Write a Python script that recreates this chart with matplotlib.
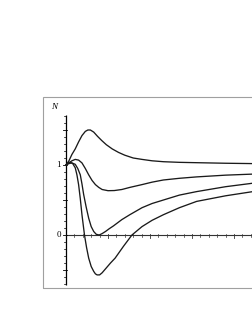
import matplotlib.pyplot as plt
import numpy as np
from matplotlib.patches import Rectangle

# curves (x in arbitrary units, y = N)
x1 = [0, 0.07, 0.14, 0.22, 0.30, 0.38, 0.46, 0.52, 0.58, 0.66, 0.75, 0.85, 0.96, 1.10, 1.25, 1.40, 1.6, 1.81, 2.05, 2.32, 2.7, 3.11, 3.8, 4.45]
y1 = [1, 1.06, 1.15, 1.23, 1.33, 1.42, 1.48, 1.50, 1.50, 1.47, 1.41, 1.35, 1.29, 1.23, 1.18, 1.14, 1.10, 1.08, 1.06, 1.047, 1.038, 1.033, 1.025, 1.02]

x2 = [0, 0.07, 0.14, 0.22, 0.30, 0.38, 0.46, 0.54, 0.62, 0.70, 0.78, 0.86, 1.0, 1.15, 1.33, 1.52, 1.81, 2.05, 2.32, 2.7, 3.11, 3.8, 4.45]
y2 = [1, 1.03, 1.06, 1.08, 1.07, 1.03, 0.95, 0.86, 0.78, 0.72, 0.68, 0.65, 0.633, 0.635, 0.65, 0.68, 0.72, 0.755, 0.786, 0.81, 0.83, 0.855, 0.87]

x3 = [0, 0.07, 0.14, 0.22, 0.28, 0.34, 0.38, 0.42, 0.48, 0.54, 0.60, 0.66, 0.72, 0.79, 0.86, 0.94, 1.03, 1.13, 1.33, 1.52, 1.81, 2.05, 2.32, 2.7, 3.11, 3.8, 4.45]
y3 = [1, 1.02, 1.03, 1.01, 0.95, 0.86, 0.73, 0.58, 0.40, 0.24, 0.12, 0.05, 0.01, 0.0, 0.02, 0.05, 0.09, 0.13, 0.22, 0.29, 0.39, 0.45, 0.50, 0.57, 0.62, 0.69, 0.74]

x4 = [0, 0.05, 0.10, 0.16, 0.22, 0.26, 0.30, 0.34, 0.38, 0.44, 0.49, 0.54, 0.60, 0.66, 0.70, 0.74, 0.80, 0.86, 0.96, 1.06, 1.17, 1.37, 1.57, 1.81, 2.05, 2.32, 2.7, 3.11, 3.8, 4.45]
y4 = [1, 1.03, 1.04, 1.02, 0.96, 0.86, 0.72, 0.52, 0.29, 0.0, -0.18, -0.33, -0.45, -0.52, -0.555, -0.57, -0.57, -0.54, -0.47, -0.40, -0.33, -0.16, 0.0, 0.12, 0.21, 0.29, 0.39, 0.48, 0.56, 0.62]

ytick_labels = ['0', '1']

W, H = 253, 327
fig = plt.figure(figsize=(W / 100, H / 100), dpi=100)
ax = fig.add_axes([0, 0, 1, 1])
ax.axis('off')
# pixel mapping: x=0 at px 66, 42 px per unit; y=0 at px 235, 70 px per unit
ax.set_xlim(-66 / 42, (W - 66) / 42)
ax.set_ylim(-(H - 235) / 70, 235 / 70)

# grey frame
fig.patches.append(Rectangle((42.7 / W, (H - 288) / H), 1, (288 - 96.7) / H,
                             transform=fig.transFigure, fill=False,
                             edgecolor='#a0a0a0', linewidth=0.8))

# axes lines
ax.plot([0, 0], [-0.71, 1.71], color='black', lw=0.9, solid_capstyle='butt')
ax.plot([0, 4.5], [0, 0], color='#333333', lw=0.8)

# y ticks
for i in range(-7, 18):
    v = i / 10
    if i % 5 == 0:
        ax.plot([-3 / 42, 1 / 42], [v, v], color='black', lw=0.6)
    else:
        ax.plot([-2 / 42, 0.5 / 42], [v, v], color='black', lw=0.5)

# x ticks
for i in range(1, 23):
    v = i * 0.2
    if i % 5 == 0:
        ax.plot([v, v], [-3 / 70, 1 / 70], color='#333333', lw=0.6)
    else:
        ax.plot([v, v], [-1.5 / 70, 1.5 / 70], color='#333333', lw=0.5)

for xs, ys in [(x1, y1), (x2, y2), (x3, y3), (x4, y4)]:
    ax.plot(xs, ys, color='#1a1a1a', lw=0.95, solid_joinstyle='round')

ax.text(-5 / 42, 0, ytick_labels[0], ha='right', va='center', fontsize=6.5, family='Liberation Serif')
ax.text(-5 / 42, 1, ytick_labels[1], ha='right', va='center', fontsize=6.5, family='Liberation Serif')
ax.text(-0.29, 1.83, 'N', ha='center', va='center', fontsize=6.5, family='Liberation Serif', style='italic')

fig.savefig('out.png', dpi=100)
